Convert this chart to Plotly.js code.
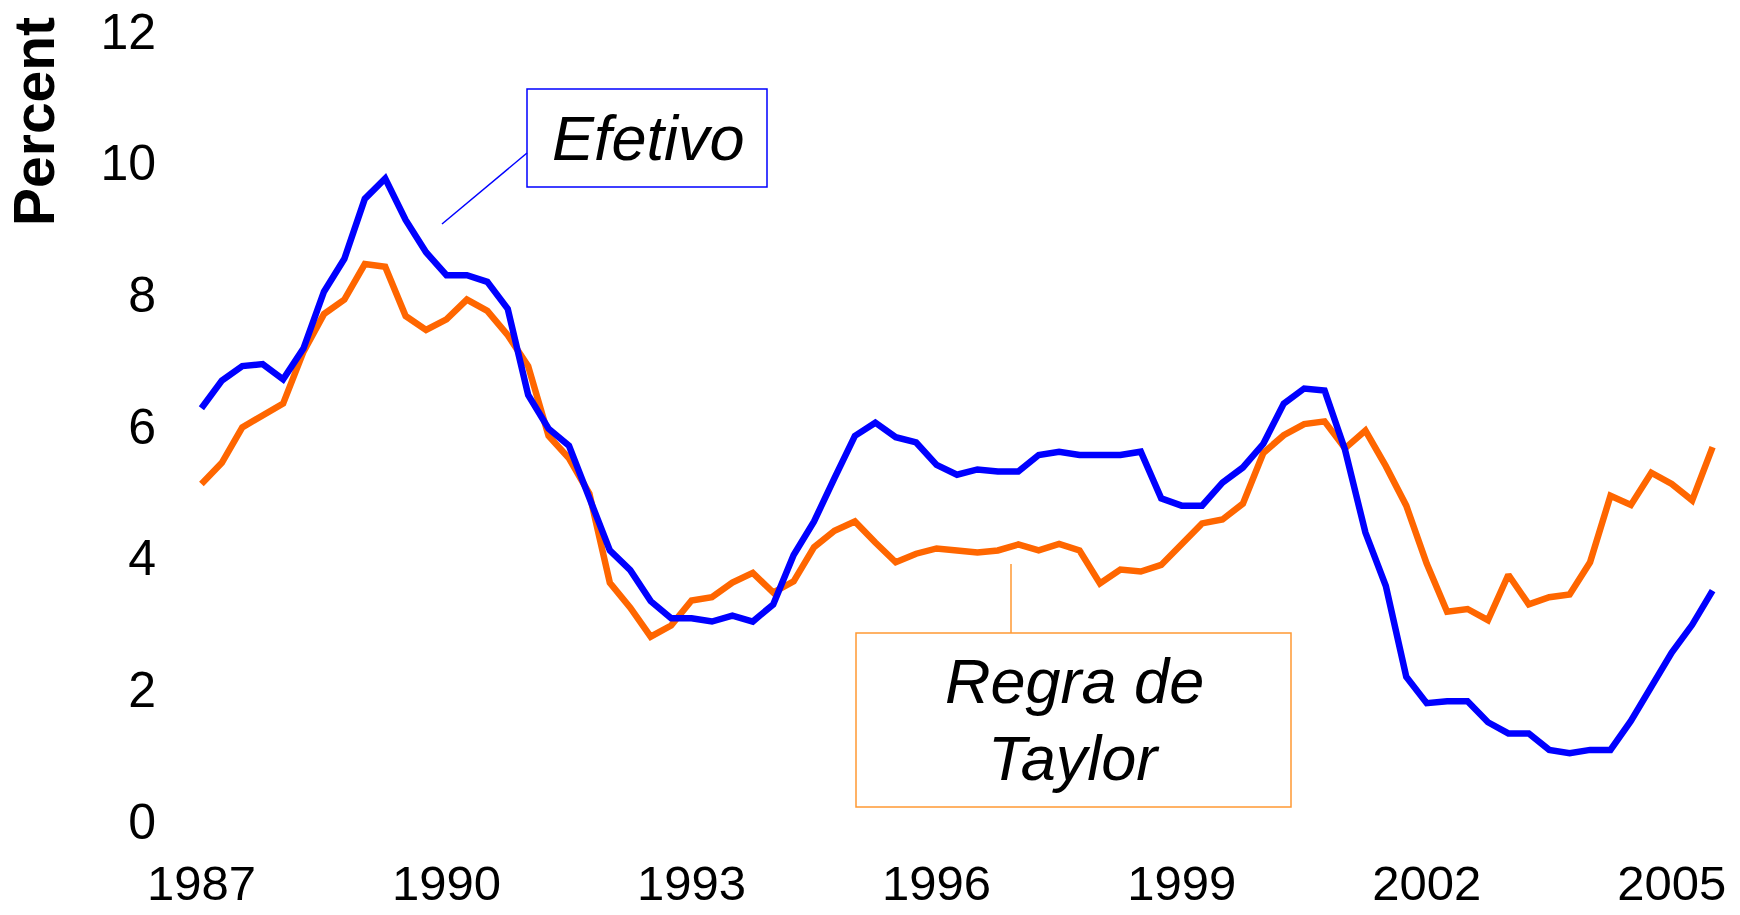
<!DOCTYPE html>
<html>
<head>
<meta charset="utf-8">
<script src="https://cdn.plot.ly/plotly-3.0.1.min.js"></script>
<style>html,body{margin:0;padding:0;background:#fff;}#chart{width:1740px;height:915px;}</style>
</head>
<body>
<div id="chart"></div>
<script>
// Quarterly data 1987Q1 .. 2005Q3
const startYear = 1987;
const efetivo = [6.27,6.69,6.91,6.94,6.71,7.18,8.04,8.54,9.45,9.76,9.13,8.64,8.29,8.29,8.19,7.78,
  6.47,5.96,5.70,4.89,4.11,3.81,3.34,3.08,3.08,3.03,3.12,3.03,3.29,4.04,4.55,5.21,5.85,6.05,5.83,5.75,
  5.41,5.26,5.34,5.31,5.31,5.56,5.61,5.56,5.56,5.56,5.61,4.90,4.79,4.79,5.14,5.37,5.73,6.34,6.57,6.54,
  5.64,4.38,3.57,2.19,1.79,1.82,1.82,1.50,1.33,1.33,1.08,1.03,1.08,1.08,1.52,2.02,2.56,2.98,3.50];
const taylor = [5.12,5.44,5.98,6.15,6.34,7.13,7.70,7.92,8.46,8.42,7.67,7.46,7.62,7.92,7.75,7.38,
  6.91,5.85,5.51,4.97,3.62,3.24,2.80,2.97,3.35,3.40,3.62,3.77,3.47,3.64,4.16,4.41,4.55,4.23,3.93,4.06,
  4.14,4.11,4.08,4.11,4.20,4.11,4.21,4.11,3.61,3.82,3.79,3.89,4.21,4.52,4.58,4.82,5.59,5.86,6.03,6.07,
  5.66,5.93,5.39,4.79,3.91,3.18,3.22,3.05,3.74,3.29,3.40,3.44,3.93,4.94,4.80,5.29,5.12,4.87,5.68];
const xTickVals = [1987,1990,1993,1996,1999,2002,2005];
const xTickText = ['1987','1990','1993','1996','1999','2002','2005'];
const yTickVals = [0,2,4,6,8,10,12];
const labelEfetivo = 'Efetivo';
const labelTaylor1 = 'Regra de';
const labelTaylor2 = 'Taylor';
const yTitle = 'Percent';

const quarters = efetivo.map((_, i) => startYear + i / 4);

const W = 1740, H = 915;
const M = {l: 181, r: 7, t: 31, b: 94};
const PW = W - M.l - M.r, PH = H - M.t - M.b;
const px = x => (x - M.l) / PW;
const py = y => (H - M.b - y) / PH;

const FONT = 'Liberation Sans, Arial, sans-serif';
const BLUE = '#0000FF', ORANGE = '#FF6600', ORANGE_BOX = '#FF9933';

const traces = [
  {x: quarters, y: taylor, type: 'scatter', mode: 'lines', name: 'Regra de Taylor',
   line: {color: ORANGE, width: 6.5, shape: 'linear'}},
  {x: quarters, y: efetivo, type: 'scatter', mode: 'lines', name: 'Efetivo',
   line: {color: BLUE, width: 6.5, shape: 'linear'}}
];

const layout = {
  width: W, height: H,
  margin: M,
  paper_bgcolor: '#fff', plot_bgcolor: '#fff',
  showlegend: false,
  font: {family: FONT, color: '#000'},
  xaxis: {
    range: [1986.75, 2005.75], tickmode: 'array', tickvals: xTickVals, ticktext: xTickText,
    showgrid: false, zeroline: false, showline: false,
    ticks: 'outside', ticklen: 19, tickcolor: 'rgba(0,0,0,0)',
    tickfont: {family: FONT, size: 49, color: '#000'}
  },
  yaxis: {
    range: [0, 12], tickmode: 'array', tickvals: yTickVals,
    showgrid: false, zeroline: false, showline: false,
    ticks: 'outside', ticklen: 14, tickcolor: 'rgba(0,0,0,0)',
    tickfont: {family: FONT, size: 50, color: '#000'}
  },
  shapes: [
    {type: 'rect', xref: 'paper', yref: 'paper', x0: px(527), x1: px(767), y0: py(89), y1: py(187),
     line: {color: BLUE, width: 1.5}, fillcolor: 'rgba(0,0,0,0)'},
    {type: 'line', xref: 'paper', yref: 'paper', x0: px(442), y0: py(224), x1: px(527), y1: py(153),
     line: {color: BLUE, width: 1.5}},
    {type: 'rect', xref: 'paper', yref: 'paper', x0: px(856), x1: px(1291), y0: py(633), y1: py(807),
     line: {color: ORANGE_BOX, width: 1.5}, fillcolor: 'rgba(0,0,0,0)'},
    {type: 'line', xref: 'paper', yref: 'paper', x0: px(1011), y0: py(564), x1: px(1011), y1: py(633),
     line: {color: ORANGE_BOX, width: 1.5}}
  ],
  annotations: [
    {xref: 'paper', yref: 'paper', x: px(34), y: py(122), text: '<b>' + yTitle + '</b>', textangle: -90,
     showarrow: false, xanchor: 'center', yanchor: 'middle', font: {family: FONT, size: 57, color: '#000'}},
    {xref: 'paper', yref: 'paper', x: px(648), y: py(138), text: '<i>' + labelEfetivo + '</i>',
     showarrow: false, xanchor: 'center', yanchor: 'middle', font: {family: FONT, size: 63, color: '#000'}},
    {xref: 'paper', yref: 'paper', x: px(1074), y: py(681), text: '<i>' + labelTaylor1 + '</i>',
     showarrow: false, xanchor: 'center', yanchor: 'middle', font: {family: FONT, size: 63, color: '#000'}},
    {xref: 'paper', yref: 'paper', x: px(1074), y: py(758), text: '<i>' + labelTaylor2 + '</i>',
     showarrow: false, xanchor: 'center', yanchor: 'middle', font: {family: FONT, size: 63, color: '#000'}}
  ]
};

Plotly.newPlot('chart', traces, layout, {displayModeBar: false, staticPlot: true});
</script>
</body>
</html>
